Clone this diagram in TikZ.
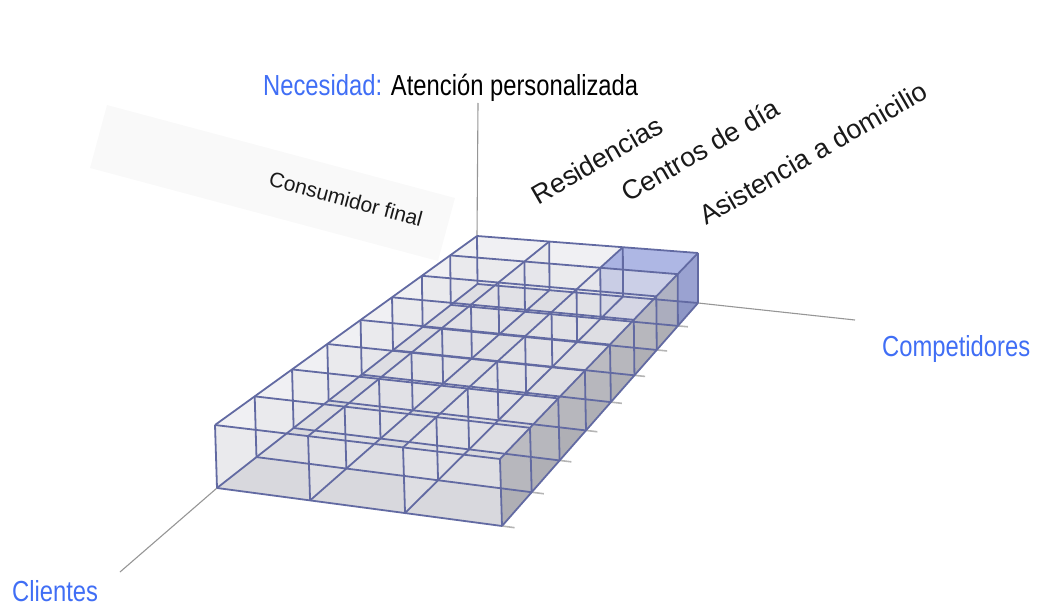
\documentclass[tikz,border=0pt]{standalone}
\usepackage{fontspec}
\setmainfont{Liberation Sans}
\newfontfamily\narrowfont{Liberation Sans}[FakeStretch=0.82]
\usetikzlibrary{calc}
\definecolor{gridline}{RGB}{98,106,162}
\definecolor{labelblue}{RGB}{64,110,245}
\definecolor{floorc}{RGB}{202,202,207}
\definecolor{wallc}{RGB}{228,228,233}
\definecolor{sidec}{RGB}{135,135,142}
\definecolor{cubeblue}{RGB}{112,130,216}
\definecolor{axisc}{RGB}{150,150,150}
\definecolor{bandc}{RGB}{249,249,249}
\tikzset{
  edge/.style={draw=gridline, line width=1.8pt, line join=round},
  floorfill/.style={fill=floorc},
  wallfill/.style={fill=wallc, fill opacity=0.55},
  sidefill/.style={fill=sidec, fill opacity=0.4},
  cubefill/.style={fill=cubeblue, fill opacity=0.3},
  axisline/.style={draw=axisc, line width=1.1pt},
  tickline/.style={draw=axisc!70, line width=1.6pt},
  band/.style={fill=bandc},
  narrowlabel/.style={font=\narrowfont\fontsize{29}{34}\selectfont, inner sep=0pt},
  tiltlabel/.style={font=\fontsize{27}{32}\selectfont, inner sep=0pt, text=black!90},
}
\begin{document}
\begin{tikzpicture}[x=1pt,y=-1pt]
\useasboundingbox (0,0) rectangle (1038,607);
% faint background band behind the left label
\fill[band] (107,105) -- (455,198) -- (438,261) -- (90,168) -- cycle;
% outer corners of the grid (3 x 8 x 1 cells)
\coordinate (B00) at (217,488);
\coordinate (T00) at (215,425);
\coordinate (B30) at (502,526);
\coordinate (T30) at (500,459);
\coordinate (B08) at (477.5,284);
\coordinate (T08) at (477,236);
\coordinate (B38) at (698,303);
\coordinate (T38) at (698,253);
% perspective grid points p-X-Y-Z
\foreach \X in {0,...,3} {
  \pgfmathsetmacro\s{0.97*(\X/3)/((1-\X/3)+0.97*\X/3)}
  \coordinate (fb) at ($(B00)!\s!(B30)$);
  \coordinate (ft) at ($(T00)!\s!(T30)$);
  \coordinate (bb) at ($(B08)!\s!(B38)$);
  \coordinate (bt) at ($(T08)!\s!(T38)$);
  \foreach \Y in {0,...,8} {
    \pgfmathsetmacro\t{1.25*\Y/(8+0.25*\Y)}
    \coordinate (p-\X-\Y-0) at ($(fb)!\t!(bb)$);
    \coordinate (p-\X-\Y-1) at ($(ft)!\t!(bt)$);
  }
}
% axes
\coordinate (vtop) at (478,103);
\coordinate (compend) at (855,320);
\coordinate (clientend) at (120,572);
\draw[axisline] (p-0-8-1) -- (vtop);
\draw[axisline] (p-3-8-0) -- (compend);
\draw[axisline] (p-0-0-0) -- (clientend);
% back wall
\fill[wallfill] (p-0-8-0) -- (p-3-8-0) -- (p-3-8-1) -- (p-0-8-1) -- cycle;
% rows, back to front
\foreach \R [evaluate=\R as \Rn using int(\R+1)] in {7,6,...,0} {
  \foreach \C [evaluate=\C as \Cn using int(\C+1)] in {0,1,2} {
    \fill[floorfill] (p-\C-\R-0) -- (p-\Cn-\R-0) -- (p-\Cn-\Rn-0) -- (p-\C-\Rn-0) -- cycle;
  }
  \foreach \K in {0,1,2} {
    \fill[wallfill] (p-\K-\R-0) -- (p-\K-\Rn-0) -- (p-\K-\Rn-1) -- (p-\K-\R-1) -- cycle;
  }
  \fill[sidefill] (p-3-\R-0) -- (p-3-\Rn-0) -- (p-3-\Rn-1) -- (p-3-\R-1) -- cycle;
  \ifnum\R=7
    % highlighted cube
    \fill[cubefill] (p-2-7-0) -- (p-3-7-0) -- (p-3-8-0) -- (p-2-8-0) -- cycle;
    \fill[cubefill] (p-2-8-0) -- (p-3-8-0) -- (p-3-8-1) -- (p-2-8-1) -- cycle;
    \fill[cubefill] (p-2-7-0) -- (p-2-8-0) -- (p-2-8-1) -- (p-2-7-1) -- cycle;
    \fill[cubefill] (p-3-7-0) -- (p-3-8-0) -- (p-3-8-1) -- (p-3-7-1) -- cycle;
    \fill[cubefill] (p-2-7-0) -- (p-3-7-0) -- (p-3-7-1) -- (p-2-7-1) -- cycle;
    \fill[cubefill] (p-2-7-1) -- (p-3-7-1) -- (p-3-8-1) -- (p-2-8-1) -- cycle;
  \fi
  \fill[wallfill] (p-0-\R-0) -- (p-3-\R-0) -- (p-3-\R-1) -- (p-0-\R-1) -- cycle;
}
% ticks on the right bottom edge
\foreach \Y in {0,...,7} {
  \draw[tickline] (p-3-\Y-0) -- ($(p-3-\Y-0)!-0.13!(p-2-\Y-0)$);
}
% wireframe edges
\foreach \Y in {0,...,8} {
  \draw[edge] (p-0-\Y-0) -- (p-3-\Y-0);
  \draw[edge] (p-0-\Y-1) -- (p-3-\Y-1);
}
\foreach \X in {0,...,3} {
  \draw[edge] (p-\X-0-0) -- (p-\X-8-0);
  \draw[edge] (p-\X-0-1) -- (p-\X-8-1);
  \foreach \Y in {0,...,8} {
    \draw[edge] (p-\X-\Y-0) -- (p-\X-\Y-1);
  }
}
% labels
\node[narrowlabel, anchor=base west] (need) at (263,96) {\textcolor{labelblue}{Necesidad:} Atención personalizada};
\node[narrowlabel, anchor=base west, text=labelblue] (comp) at (882,356) {Competidores};
\node[narrowlabel, anchor=base west, text=labelblue] (cli) at (12,601) {Clientes};
\node[tiltlabel, font=\fontsize{21}{25}\selectfont, rotate=-15] (cons) at (346,199) {Consumidor final};
\node[tiltlabel, rotate=30] (res) at (597,160) {Residencias};
\node[tiltlabel, rotate=30] (cen) at (700,150) {Centros de día};
\node[tiltlabel, rotate=30] (asi) at (813,153) {Asistencia a domicilio};
\end{tikzpicture}
\end{document}
